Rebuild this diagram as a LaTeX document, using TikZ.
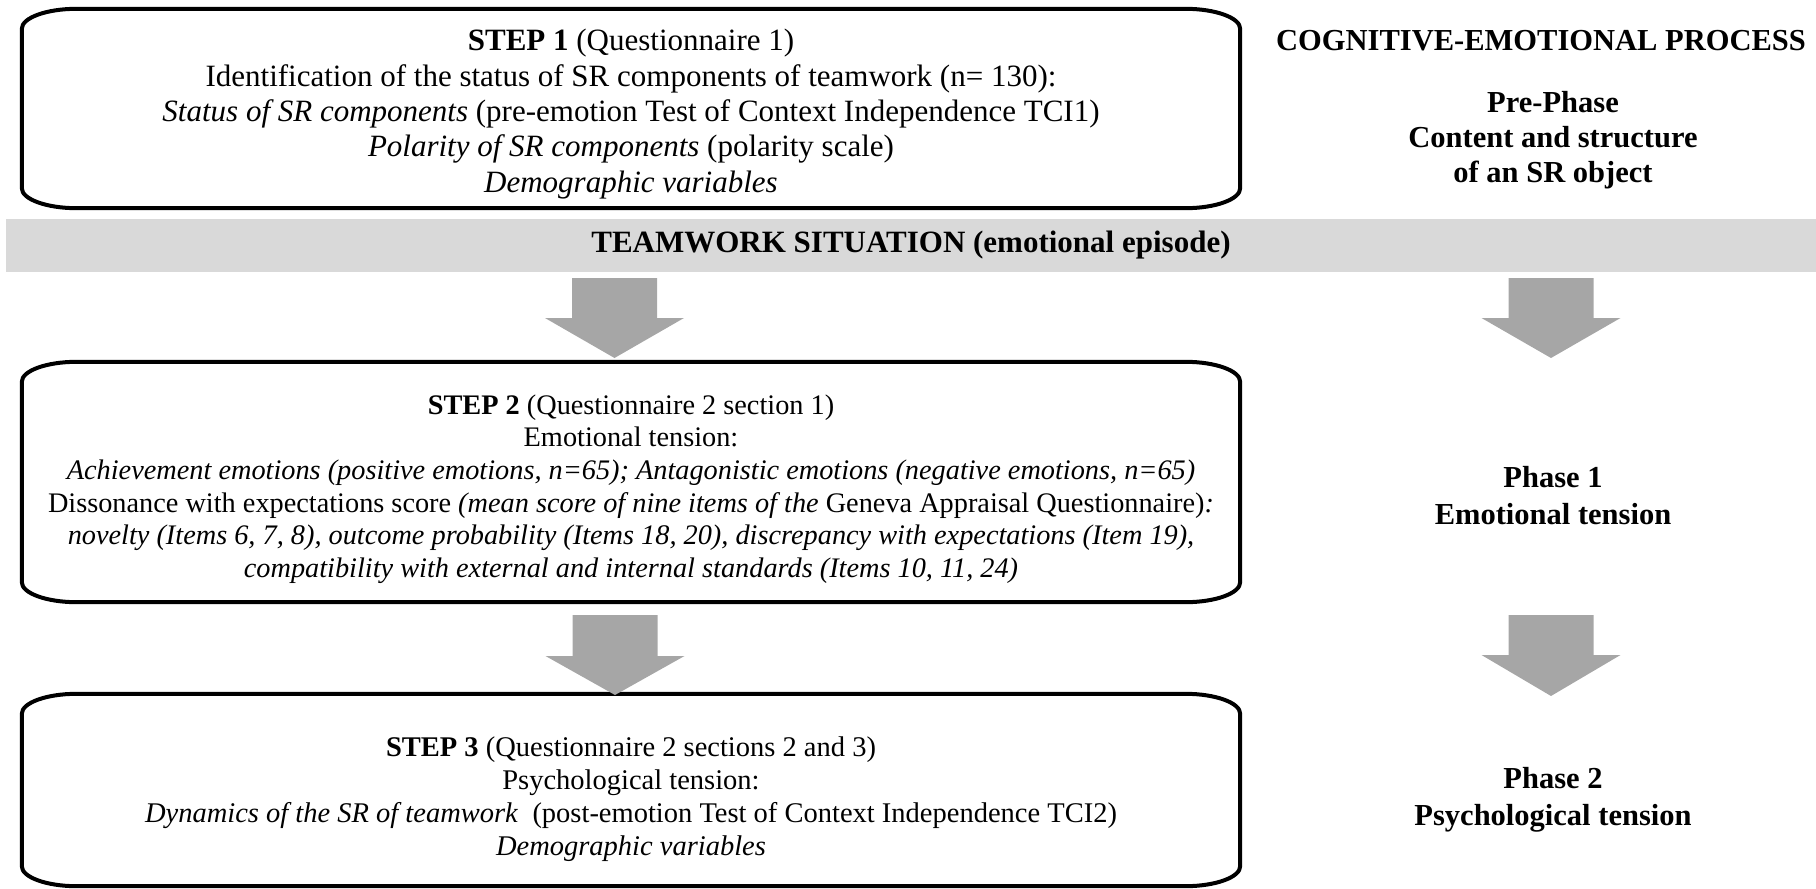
\documentclass[tikz,border=0pt]{standalone}
\usepackage{fontspec}
\setmainfont{Liberation Serif}
\definecolor{bandgray}{RGB}{217,217,217}
\definecolor{arrowgray}{RGB}{166,166,166}
\tikzset{
  frame/.style={draw=none, inner sep=0pt, minimum width=1218pt},
  boxline/.style={line width=4pt, black},
  boxtxt/.style={align=center, inner sep=0pt},
  sidetxt/.style={align=center, inner sep=0pt, font=\fontsize{30.5}{35}\selectfont\bfseries},
  bandstyle/.style={fill=bandgray, draw=none, inner sep=0pt, minimum width=1810pt, minimum height=53pt,
                    font=\fontsize{31}{34}\selectfont\bfseries},
  blockarrow/.style={fill=arrowgray, draw=none},
}
\newcommand\ellbox[1]{%
  \draw[boxline] ([xshift=55pt]#1.north west) -- ([xshift=-55pt]#1.north east)
    arc[start angle=90, end angle=0, x radius=55pt, y radius=20pt]
    -- ([yshift=20pt]#1.south east)
    arc[start angle=0, end angle=-90, x radius=55pt, y radius=20pt]
    -- ([xshift=55pt]#1.south west)
    arc[start angle=-90, end angle=-180, x radius=55pt, y radius=20pt]
    -- ([yshift=-20pt]#1.north west)
    arc[start angle=180, end angle=90, x radius=55pt, y radius=20pt] -- cycle;}
\newcommand\blockarr[4]{%
  \fill[blockarrow] (#1-42.5,#2) -- (#1+42.5,#2) -- (#1+42.5,#3) -- (#1+69.5,#3)
    -- (#1,#4) -- (#1-69.5,#3) -- (#1-42.5,#3) -- cycle;}
\begin{document}
\begin{tikzpicture}[x=1pt, y=-1pt]
\useasboundingbox (0,0) rectangle (1816,889);

% band
\node[bandstyle] (band) at (911,245.5) {TEAMWORK SITUATION (emotional episode)};

% frames
\node[frame, minimum height=199pt] (b1) at (631,108.5) {};
\node[frame, minimum height=240pt] (b2) at (631,482) {};
\node[frame, minimum height=192pt] (b3) at (631,790) {};
\ellbox{b1}
\ellbox{b2}
\ellbox{b3}

% box texts
\node[boxtxt, font=\fontsize{31}{35.3}\selectfont] (t1) at (631,114) {%
\textbf{STEP 1} (Questionnaire 1)\\
Identification of the status of SR components of teamwork (n= 130):\\
\textit{Status of SR components} (pre-emotion Test of Context Independence TCI1)\\
\textit{Polarity of SR components} (polarity scale)\\
\textit{Demographic variables}};

\node[boxtxt, font=\fontsize{28.3}{32.6}\selectfont] (t2) at (631,489) {%
\textbf{STEP 2} (Questionnaire 2 section 1)\\
Emotional tension:\\
\textit{Achievement emotions (positive emotions, n=65); Antagonistic emotions (negative emotions, n=65)}\\
Dissonance with expectations score \textit{(mean score of nine items of the }Geneva Appraisal Questionnaire)\textit{:}\\
\textit{novelty (Items 6, 7, 8), outcome probability (Items 18, 20), discrepancy with expectations (Item 19),}\\
\textit{compatibility with external and internal standards (Items 10, 11, 24)}};

\node[boxtxt, font=\fontsize{28.5}{33.2}\selectfont] (t3) at (631,799) {%
\textbf{STEP 3} (Questionnaire 2 sections 2 and 3)\\
Psychological tension:\\
\textit{Dynamics of the SR of teamwork}\ \ (post-emotion Test of Context Independence TCI2)\\
\textit{Demographic variables}};

% right column
\node[sidetxt] (cep) at (1541,41) {COGNITIVE-EMOTIONAL PROCESS};
\node[sidetxt] (pre) at (1553,140) {Pre-Phase\\Content and structure\\of an SR object};
\node[sidetxt, font=\fontsize{30.5}{37}\selectfont\bfseries] (ph1) at (1553,496) {Phase 1\\Emotional tension};
\node[sidetxt, font=\fontsize{30.5}{37}\selectfont\bfseries] (ph2) at (1553,800) {Phase 2\\Psychological tension};

% block arrows
\blockarr{614.5}{278}{318}{358}
\blockarr{615}{615}{656}{695}
\blockarr{1551}{278}{318}{358}
\blockarr{1551}{615}{655}{696}
\end{tikzpicture}
\end{document}
